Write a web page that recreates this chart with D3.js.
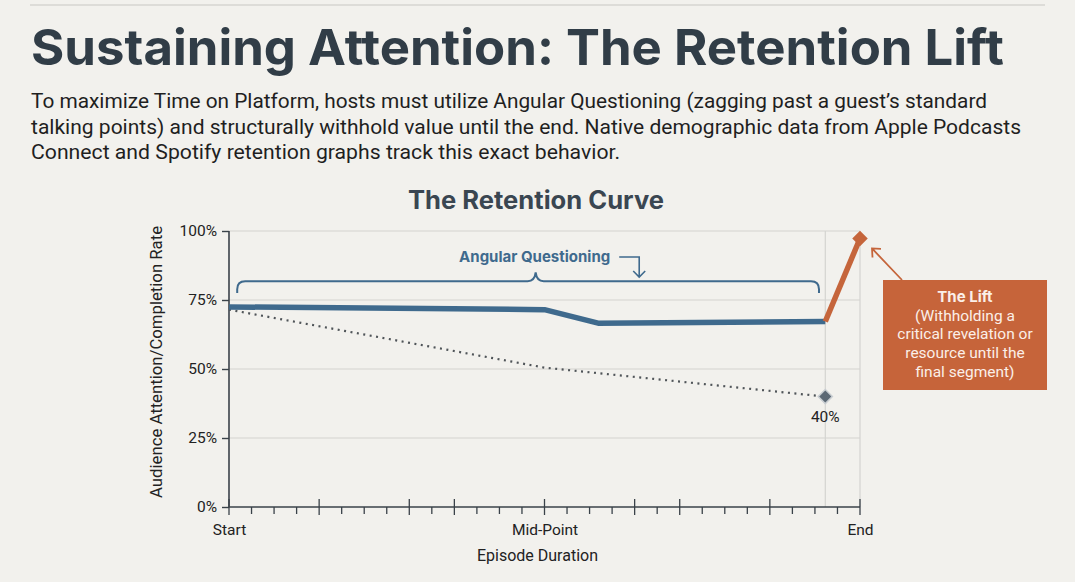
<!DOCTYPE html>
<html>
<head>
<meta charset="utf-8">
<script src="https://cdn.jsdelivr.net/npm/d3@7/dist/d3.min.js"></script>
<style>
  html, body { margin: 0; padding: 0; background: #f2f1ed; }
  svg { display: block; }
</style>
</head>
<body>
<div id="chart"></div>
<script>
// values
var titleText = 'Sustaining Attention: The Retention Lift'
var subtitleLines = [
  'To maximize Time on Platform, hosts must utilize Angular Questioning (zagging past a guest\u2019s standard',
  'talking points) and structurally withhold value until the end. Native demographic data from Apple Podcasts',
  'Connect and Spotify retention graphs track this exact behavior.'
]
var chartTitle = 'The Retention Curve'

var xTickLabels = ['Start', 'Mid-Point', 'End']
var xTickPos = [0, 50, 100]
var yTicks = [0, 25, 50, 75, 100]

// sustained (angular questioning) curve
var sustainedX = [0, 50, 58.5, 94.5]
var sustainedY = [72.5, 71.5, 66.6, 67.2]
// the lift at the end
var liftX = [94.5, 100]
var liftY = [67.2, 97.3]
// typical drop-off
var baselineX = [0, 50, 94.5]
var baselineY = [71.5, 50.5, 40]

var bracePos = [1.3, 48.6, 93.5]   // start, notch, end (x domain)
var braceLevels = [77.5, 81.8, 85] // end tips, bar, notch (y domain)

var W = 1075, H = 582
var margin = { left: 229, right: 215, top: 231, bottom: 75 }

var svg = d3.select('#chart').append('svg')
  .attr('width', W)
  .attr('height', H)
  .style('font-family', 'Roboto, "Liberation Sans", sans-serif')

svg.append('rect').attr('width', W).attr('height', H).attr('fill', '#f2f1ed')

// thin frame line at the top
svg.append('line')
  .attr('x1', 30).attr('x2', 1045).attr('y1', 5).attr('y2', 5)
  .attr('stroke', '#d6d5d0').attr('stroke-width', 1.5)

svg.append('text')
  .attr('x', 31).attr('y', 65)
  .attr('textLength', 973).attr('lengthAdjust', 'spacingAndGlyphs')
  .style('font-family', 'Inter, "Open Sans", sans-serif')
  .style('font-weight', 700)
  .style('font-size', '50px')
  .attr('fill', '#313d47')
  .text(titleText)

var subLens = [956, 990, 589]
svg.selectAll('text.sub')
  .data(subtitleLines)
  .enter().append('text')
  .classed('sub', true)
  .attr('x', 31)
  .attr('y', function (d, i) { return 108 + i * 25.5 })
  .attr('textLength', function (d, i) { return subLens[i] })
  .attr('lengthAdjust', 'spacingAndGlyphs')
  .style('font-size', '20px')
  .attr('fill', '#1f1f1f')
  .text(function (d) { return d })

svg.append('text')
  .attr('x', 536).attr('y', 209)
  .attr('text-anchor', 'middle')
  .attr('textLength', 256).attr('lengthAdjust', 'spacingAndGlyphs')
  .style('font-family', 'Inter, "Open Sans", sans-serif')
  .style('font-weight', 700)
  .style('font-size', '25px')
  .attr('fill', '#3a4651')
  .text(chartTitle)

var x = d3.scaleLinear().domain([0, 100]).range([margin.left, W - margin.right])
var y = d3.scaleLinear().domain([0, 100]).range([H - margin.bottom, margin.top])

var g = svg.append('g')

// grid
g.selectAll('line.hgrid')
  .data(yTicks.filter(function (d) { return d > 0 }))
  .enter().append('line')
  .classed('hgrid', true)
  .attr('x1', x(0)).attr('x2', x(100))
  .attr('y1', function (d) { return y(d) })
  .attr('y2', function (d) { return y(d) })
  .attr('stroke', '#d4d4d0').attr('stroke-width', 1.2)

g.selectAll('line.vgrid')
  .data([liftX[0], 100])
  .enter().append('line')
  .classed('vgrid', true)
  .attr('x1', function (d) { return x(d) })
  .attr('x2', function (d) { return x(d) })
  .attr('y1', y(100)).attr('y2', y(0))
  .attr('stroke', '#d4d4d0').attr('stroke-width', 1.2)

// y axis
var yAxis = d3.axisLeft(y).tickValues(yTicks)
  .tickFormat(function (d) { return d + '%' })
  .tickSize(7).tickPadding(6)
var yg = g.append('g').attr('transform', 'translate(' + x(0) + ',0)').call(yAxis)
yg.select('.domain').remove()
yg.selectAll('.tick line').attr('stroke', '#3a4249').attr('stroke-width', 1.4)
yg.selectAll('.tick text')
  .attr('x', -12)
  .style('font-size', '15.5px')
  .style('font-family', 'Roboto, "Liberation Sans", sans-serif')
  .attr('fill', '#222')
g.append('line')
  .attr('x1', x(0)).attr('x2', x(0)).attr('y1', y(100)).attr('y2', y(0))
  .attr('stroke', '#3a4249').attr('stroke-width', 1.6)

// x axis with minor and major ticks
var minorTicks = d3.range(0, 29).map(function (i) { return i * 100 / 28 })
var majorIdx = [0, 4, 8, 10, 14, 18, 20, 24, 28]
g.selectAll('line.xminor')
  .data(minorTicks)
  .enter().append('line')
  .classed('xminor', true)
  .attr('x1', function (d) { return x(d) })
  .attr('x2', function (d) { return x(d) })
  .attr('y1', function (d, i) { return y(0) - (majorIdx.indexOf(i) > -1 ? 8 : 0) })
  .attr('y2', function (d, i) { return y(0) + (majorIdx.indexOf(i) > -1 ? 8 : 7) })
  .attr('stroke', '#3a4249').attr('stroke-width', 1.3)

var xAxis = d3.axisBottom(x).tickValues(xTickPos)
  .tickFormat(function (d, i) { return xTickLabels[i] })
  .tickSize(0).tickPadding(17)
var xg = g.append('g').attr('transform', 'translate(0,' + y(0) + ')').call(xAxis)
xg.select('.domain').remove()
xg.selectAll('.tick text')
  .style('font-size', '15.5px')
  .style('font-family', 'Roboto, "Liberation Sans", sans-serif')
  .attr('fill', '#222')
g.append('line')
  .attr('x1', x(0)).attr('x2', x(100)).attr('y1', y(0)).attr('y2', y(0))
  .attr('stroke', '#3a4249').attr('stroke-width', 1.6)

svg.append('text')
  .attr('x', 537.5).attr('y', 561)
  .attr('text-anchor', 'middle')
  .attr('textLength', 121).attr('lengthAdjust', 'spacingAndGlyphs')
  .style('font-size', '16px')
  .attr('fill', '#222')
  .text('Episode Duration')

svg.append('text')
  .attr('transform', 'translate(162,' + (y(50) - 7) + ') rotate(-90)')
  .attr('text-anchor', 'middle')
  .attr('textLength', 272).attr('lengthAdjust', 'spacingAndGlyphs')
  .style('font-size', '16px')
  .attr('fill', '#222')
  .text('Audience Attention/Completion Rate')

var line = d3.line()
  .x(function (d) { return x(d[0]) })
  .y(function (d) { return y(d[1]) })

// baseline drop-off (dotted)
g.append('path')
  .datum(d3.zip(baselineX, baselineY))
  .attr('d', line)
  .attr('fill', 'none')
  .attr('stroke', '#4f5458')
  .attr('stroke-width', 2.2)
  .attr('stroke-dasharray', '2,4.5')

var lastBase = [baselineX[baselineX.length - 1], baselineY[baselineY.length - 1]]
g.append('rect')
  .attr('x', -5).attr('y', -5).attr('width', 10).attr('height', 10)
  .attr('transform', 'translate(' + x(lastBase[0]) + ',' + y(lastBase[1]) + ') rotate(45)')
  .attr('fill', '#5b6874').attr('stroke', '#c9ced2').attr('stroke-width', 1.5)
g.append('text')
  .attr('x', x(lastBase[0])).attr('y', y(lastBase[1]) + 25)
  .attr('text-anchor', 'middle')
  .style('font-size', '15.5px')
  .attr('fill', '#222')
  .text(lastBase[1] + '%')

// sustained curve
g.append('path')
  .datum(d3.zip(sustainedX, sustainedY))
  .attr('d', line)
  .attr('fill', 'none')
  .attr('stroke', '#3f6a8d')
  .attr('stroke-width', 5.5)
  .attr('stroke-linejoin', 'round')

// the lift
g.append('path')
  .datum(d3.zip(liftX, liftY))
  .attr('d', line)
  .attr('fill', 'none')
  .attr('stroke', '#c5653b')
  .attr('stroke-width', 5.5)
g.append('rect')
  .attr('x', -5.5).attr('y', -5.5).attr('width', 11).attr('height', 11)
  .attr('transform', 'translate(' + x(liftX[1]) + ',' + y(liftY[1]) + ') rotate(45)')
  .attr('fill', '#c5653b')

// brace over the angular questioning segment
var bx0 = x(bracePos[0]), bxm = x(bracePos[1]), bx1 = x(bracePos[2])
var byTip = y(braceLevels[0]), byBar = y(braceLevels[1]), byNotch = y(braceLevels[2])
var r = 8
var brace = d3.path()
brace.moveTo(bx0, byTip)
brace.lineTo(bx0, byBar + r)
brace.quadraticCurveTo(bx0, byBar, bx0 + r, byBar)
brace.lineTo(bxm - 8, byBar)
brace.quadraticCurveTo(bxm - 1, byBar, bxm, byNotch)
brace.quadraticCurveTo(bxm + 1, byBar, bxm + 8, byBar)
brace.lineTo(bx1 - r, byBar)
brace.quadraticCurveTo(bx1, byBar, bx1, byBar + r)
brace.lineTo(bx1, byTip)
g.append('path')
  .attr('d', brace.toString())
  .attr('fill', 'none')
  .attr('stroke', '#3f6a8d')
  .attr('stroke-width', 2)

var aqLabel = g.append('text')
  .attr('x', bxm - 1).attr('y', 262)
  .attr('text-anchor', 'middle')
  .style('font-family', 'Inter, "Open Sans", sans-serif')
  .style('font-weight', 700)
  .style('font-size', '15px')
  .attr('fill', '#3f6a8d')
  .text('Angular Questioning')

var lblEnd = bxm + aqLabel.node().getComputedTextLength() / 2
var ax = lblEnd + 28
g.append('path')
  .attr('d', 'M' + (lblEnd + 8) + ',257H' + ax + 'V277M' + (ax - 6) + ',271L' + ax + ',277L' + (ax + 6) + ',271')
  .attr('fill', 'none')
  .attr('stroke', '#3f6a8d')
  .attr('stroke-width', 1.6)

// annotation box for the lift
var box = { x: 883, y: 280, w: 164, h: 110 }
svg.append('rect')
  .attr('x', box.x).attr('y', box.y).attr('width', box.w).attr('height', box.h)
  .attr('fill', '#c6643a')

var liftText = ['The Lift', '(Withholding a', 'critical revelation or', 'resource until the', 'final segment)']
svg.selectAll('text.lift')
  .data(liftText)
  .enter().append('text')
  .classed('lift', true)
  .attr('x', box.x + box.w / 2)
  .attr('y', function (d, i) { return box.y + 22 + i * 18.7 })
  .attr('text-anchor', 'middle')
  .style('font-size', function (d, i) { return i === 0 ? '15px' : '15.5px' })
  .style('font-weight', function (d, i) { return i === 0 ? 700 : 400 })
  .style('font-family', function (d, i) { return i === 0 ? 'Inter, sans-serif' : 'Roboto, sans-serif' })
  .attr('fill', '#fbefe8')
  .text(function (d) { return d })

// arrow from box to the lift point
var tipX = x(liftX[1]) + 12, tipY = y(liftY[1]) + 10
svg.append('path')
  .attr('d', 'M' + (box.x + 19) + ',' + box.y + 'L' + tipX + ',' + tipY +
    'M' + (tipX + 9) + ',' + (tipY + 0.5) + 'L' + tipX + ',' + tipY + 'L' + (tipX + 0.5) + ',' + (tipY + 9))
  .attr('fill', 'none')
  .attr('stroke', '#c5653b')
  .attr('stroke-width', 1.8)
</script>
</body>
</html>
